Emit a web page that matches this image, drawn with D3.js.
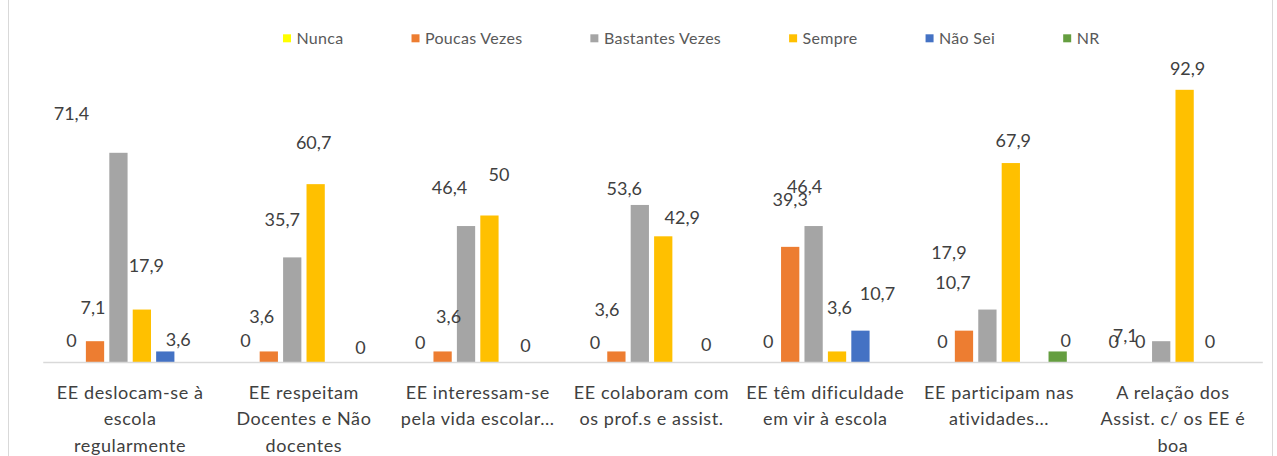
<!DOCTYPE html>
<meta charset="utf-8">
<html>
  <head>
    <style>
      body { margin: 0; background: #fff; }
      text.val {
        font-family: Lato, "Noto Sans", sans-serif;
        font-size: 18px;
        fill: #404040;
      }
      text.cat {
        font-family: Lato, "Noto Sans", sans-serif;
        font-size: 18px;
        letter-spacing: 0.6px;
        fill: #404040;
      }
      text.leg {
        font-family: Lato, "Noto Sans", sans-serif;
        font-size: 16px;
        letter-spacing: 0.3px;
        fill: #595959;
      }
    </style>
    <script src="https://d3js.org/d3.v7.min.js"></script>
  </head>
  <body>
    <div id="chart"></div>
    <script type="text/javascript">
      var categories = [
        ["EE deslocam-se à", "escola", "regularmente"],
        ["EE respeitam", "Docentes e Não", "docentes"],
        ["EE interessam-se", "pela vida escolar..."],
        ["EE colaboram com", "os prof.s e assist."],
        ["EE têm dificuldade", "em vir à escola"],
        ["EE participam nas", "atividades..."],
        ["A relação dos", "Assist. c/ os EE é", "boa"]
      ];
      var seriesNames = ["Nunca", "Poucas Vezes", "Bastantes Vezes", "Sempre", "Não Sei", "NR"];
      var nunca      = [0, 0, 0, 0, 0, 0, 0];
      var poucas     = [7.1, 3.6, 3.6, 3.6, 39.3, 10.7, 0];
      var bastantes  = [71.4, 35.7, 46.4, 53.6, 46.4, 17.9, 7.1];
      var sempre     = [17.9, 60.7, 50, 42.9, 3.6, 67.9, 92.9];
      var naoSei     = [3.6, 0, 0, 0, 10.7, 0, 0];
      var nr         = [0, 0, 0, 0, 0, 3.6, 0];
      var colors = ["#FFFF00", "#ED7D31", "#A5A5A5", "#FFC000", "#4472C4", "#659E40"];

      // the labels in the original were dragged by hand: [dx, dy] from the top of each bar
      var labelNudge = [
        [[0,-21],[0,-21],[1,-19.5],[2,-19.5],[1.5,-20],[2,-20],[-0.5,-20.5]],
        [[-2,-34],[-7,-34.5],[6,-34.5],[-9.5,-41.5],[0,-47],[-11,-48],[2.5,-20.5]],
        [[-47,-39],[-10,-38],[-16.5,-39],[-15.5,-16.5],[-9,-40],[-38.5,-57.5],[-36,-5.5]],
        [[4.5,-44.5],[-2,-41.5],[9.5,-41],[19,-19],[2.5,-44],[2.5,-22.5],[3,-21]],
        [[13,-11.5],[21.5,-14.5],[12.5,-16.5],[19.5,-17.5],[17,-37],[31.5,-21.5],[2,-20.5]],
        null
      ];

      var seriesValues = [nunca, poucas, bastantes, sempre, naoSei, nr];

      var W = 1277, H = 456;
      var svg = d3.select("#chart").append("svg")
          .attr("width", W)
          .attr("height", H);

      svg.append("rect")
          .attr("x", 8.5).attr("y", -1)
          .attr("width", 1264).attr("height", 460)
          .attr("fill", "none")
          .attr("stroke", "#d9d9d9");

      var x0 = d3.scaleBand()
          .domain(d3.range(categories.length))
          .range([43.25, 1259.8]);

      var x1 = d3.scaleBand()
          .domain(d3.range(seriesNames.length))
          .range([0, x0.bandwidth()])
          .paddingInner(0.22)
          .paddingOuter(0.82);

      var y = d3.scaleLinear()
          .domain([0, 100])
          .range([362, 69]);

      // bars
      var groups = svg.selectAll(".group")
          .data(categories)
          .enter().append("g")
            .attr("class", "group")
            .attr("transform", function (d, i) { return "translate(" + x0(i) + ",0)"; });

      groups.selectAll("rect")
          .data(function (d, i) {
            return seriesValues.map(function (vals, s) { return { s: s, v: vals[i] }; });
          })
          .enter().append("rect")
            .filter(function (d) { return d.v > 0; })
            .attr("x", function (d) { return x1(d.s); })
            .attr("y", function (d) { return y(d.v); })
            .attr("width", x1.bandwidth())
            .attr("height", function (d) { return y(0) - y(d.v); })
            .attr("fill", function (d) { return colors[d.s]; });

      // axis line
      svg.append("line")
          .attr("x1", x0.range()[0]).attr("x2", x0.range()[1] + 3)
          .attr("y1", y(0) + 0.5).attr("y2", y(0) + 0.5)
          .attr("stroke", "#d9d9d9")
          .attr("stroke-width", 1.5);

      // data labels
      groups.selectAll("text.val")
          .data(function (d, i) {
            return seriesValues.map(function (vals, s) { return { s: s, c: i, v: vals[i] }; })
              .filter(function (d) { return labelNudge[d.s] !== null; });
          })
          .enter().append("text")
            .attr("class", "val")
            .attr("text-anchor", "middle")
            .attr("x", function (d) { return x1(d.s) + x1.bandwidth() / 2 + labelNudge[d.s][d.c][0]; })
            .attr("y", function (d) { return y(d.v) + labelNudge[d.s][d.c][1]; })
            .attr("dy", "0.36em")
            .text(function (d) { return String(d.v).replace(".", ","); });

      // category labels
      var catText = svg.selectAll("text.cat")
          .data(categories)
          .enter().append("text")
            .attr("class", "cat")
            .attr("text-anchor", "middle")
            .attr("x", function (d, i) { return x0(i) + x0.bandwidth() / 2; })
            .attr("y", 398.5);

      catText.selectAll("tspan")
          .data(function (d) { return d; })
          .enter().append("tspan")
            .attr("x", function () { return d3.select(this.parentNode).attr("x"); })
            .attr("dy", function (d, i) { return i === 0 ? 0 : 26.5; })
            .text(function (d) { return d; });

      // legend
      var legend = svg.append("g").attr("transform", "translate(283,0)");
      var lx = 0;
      seriesNames.forEach(function (name, i) {
        var g = legend.append("g").attr("transform", "translate(" + lx + ",0)");
        g.append("rect")
          .attr("x", 0).attr("y", 34.3)
          .attr("width", 8).attr("height", 8)
          .attr("fill", colors[i]);
        var t = g.append("text")
          .attr("class", "leg")
          .attr("x", 13.5).attr("y", 43.5)
          .text(name);
        lx += 13.5 + t.node().getComputedTextLength() + 68;
      });
    </script>
  </body>
</html>
